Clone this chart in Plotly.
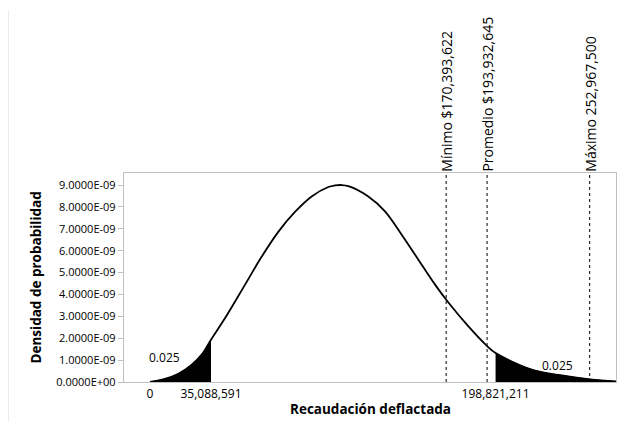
import plotly.graph_objects as go

# Curve (x in millions of pesos, density in 1e-9)
x_mill = [0, 8.6, 16.3, 24.0, 29.7, 35.088591, 43.2, 54.7, 64.2, 73.8, 83.4, 93.0, 102.6,
          106.4, 110.3, 114.1, 125.6, 135.2, 144.8, 154.4, 164.0, 171.1, 183.2, 194.1,
          198.821211, 210.0, 221.5, 235.9, 253.2, 268.5]
dens_e9 = [0.0, 0.14, 0.37, 0.79, 1.25, 1.93, 2.92, 4.45, 5.72, 6.86, 7.77, 8.48, 8.91,
           8.98, 9.0, 8.95, 8.48, 7.80, 6.73, 5.59, 4.45, 3.69, 2.54, 1.63,
           1.32, 0.87, 0.52, 0.31, 0.12, 0.02]

lower_q = 35088591
upper_q = 198821211
tail_prob = "0.025"

ref_values = [170393622, 193932645, 252967500]
ref_labels = ["Mínimo $170,393,622", "Promedio $193,932,645", "Máximo 252,967,500"]

x_tick_vals = [0, 35088591, 198821211]
x_tick_text = ["0", "35,088,591", "198,821,211"]
y_tick_vals = [i * 1e-9 for i in range(10)]
y_tick_text = ["0.0000E+00", "1.0000E-09", "2.0000E-09", "3.0000E-09", "4.0000E-09",
               "5.0000E-09", "6.0000E-09", "7.0000E-09", "8.0000E-09", "9.0000E-09"]

x_vals = [v * 1e6 for v in x_mill]
dens_vals = [d * 1e-9 for d in dens_e9]

left_x = [x for x in x_vals if x <= lower_q + 1]
left_y = [d for x, d in zip(x_vals, dens_vals) if x <= lower_q + 1]
right_x = [x for x in x_vals if x >= upper_q - 1]
right_y = [d for x, d in zip(x_vals, dens_vals) if x >= upper_q - 1]

FONT = "Open Sans, Noto Sans, sans-serif"

fig = go.Figure()
fig.add_trace(go.Scatter(x=left_x, y=left_y, mode="lines", fill="tozeroy",
                         fillcolor="black", line=dict(color="black", width=1, shape="spline", smoothing=1),
                         hoverinfo="skip"))
fig.add_trace(go.Scatter(x=right_x, y=right_y, mode="lines", fill="tozeroy",
                         fillcolor="black", line=dict(color="black", width=1, shape="spline", smoothing=1),
                         hoverinfo="skip"))
fig.add_trace(go.Scatter(x=x_vals, y=dens_vals, mode="lines",
                         line=dict(color="black", width=1.8, shape="spline", smoothing=1)))

for v, lab in zip(ref_values, ref_labels):
    fig.add_shape(type="line", xref="x", yref="paper", x0=v, x1=v, y0=0, y1=1,
                  line=dict(color="black", width=1, dash="dot"))
    fig.add_annotation(x=v, y=1, xref="x", yref="paper", text=lab, textangle=-90,
                       showarrow=False, xanchor="center", yanchor="bottom", yshift=-1,
                       font=dict(family=FONT, size=14, color="black"))

fig.add_annotation(x=8.6e6, y=1.14e-9, text=tail_prob, showarrow=False,
                   font=dict(family=FONT, size=12, color="black"))
fig.add_annotation(x=234.2e6, y=0.74e-9, text=tail_prob, showarrow=False,
                   font=dict(family=FONT, size=12, color="black"))

# axis titles
fig.add_annotation(xref="paper", yref="paper", x=0.5, y=0, yshift=-27, yanchor="middle",
                   xanchor="center",
                   text="<b>Recaudación deflactada</b>", showarrow=False,
                   font=dict(family=FONT, size=13.5, color="black"))
fig.add_annotation(xref="paper", yref="paper", x=0, xshift=-89, y=0.5, textangle=-90,
                   xanchor="center", yanchor="middle",
                   text="<b>Densidad de probabilidad</b>", showarrow=False,
                   font=dict(family=FONT, size=13.5, color="black"))

# faint border line at left of the image
fig.add_shape(type="line", xref="paper", yref="paper",
              x0=(8 - 124) / 492, x1=(8 - 124) / 492,
              y0=(382 - 10) / 209, y1=(382 - 428) / 209,
              line=dict(color="#d9d9d9", width=1))

fig.update_layout(
    width=619, height=414,
    margin=dict(l=116, r=11, t=165, b=40),
    paper_bgcolor="white", plot_bgcolor="white",
    showlegend=False,
    font=dict(family=FONT, size=11, color="black"),
)
fig.update_xaxes(range=[-14.96e6, 268.1e6], tickvals=x_tick_vals, ticktext=x_tick_text,
                 ticks="", showgrid=False, zeroline=False, showline=True, mirror=True,
                 linecolor="#c0c0c0", linewidth=1.3, tickfont=dict(size=12))
fig.update_yaxes(range=[0, 9.55e-9], tickvals=y_tick_vals, ticktext=y_tick_text,
                 ticks="outside", ticklen=5, tickcolor="#c0c0c0", showgrid=False,
                 zeroline=False, showline=True, mirror=True, linecolor="#c0c0c0",
                 linewidth=1.3, tickfont=dict(size=11))

fig.write_html("out.html")
